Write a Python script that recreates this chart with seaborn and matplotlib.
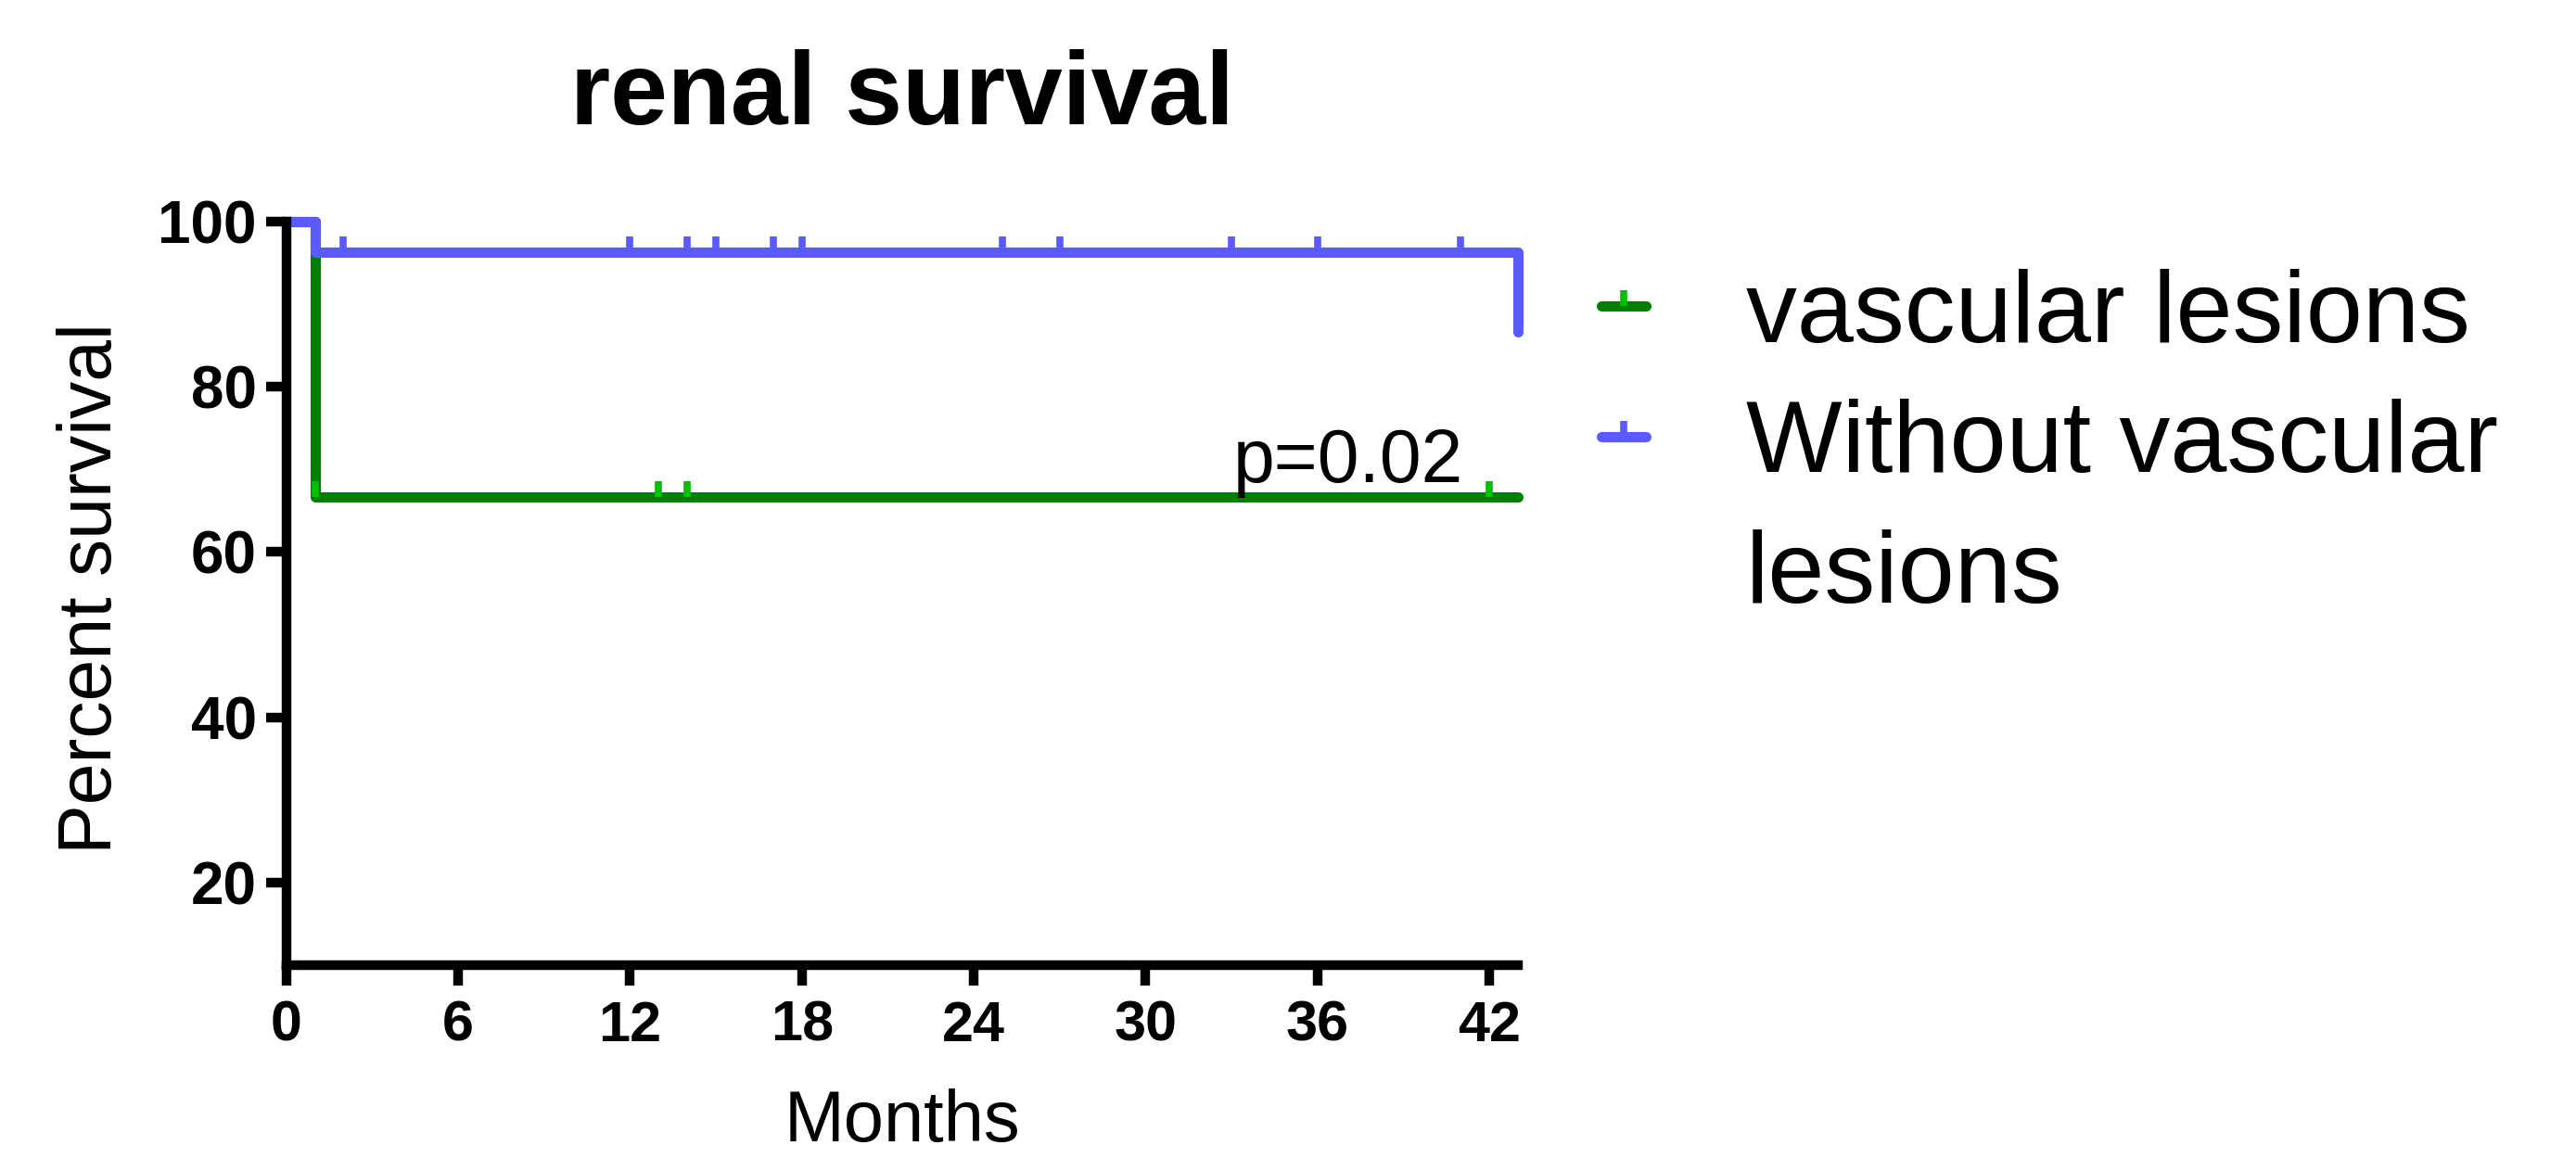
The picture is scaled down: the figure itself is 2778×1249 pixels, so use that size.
import matplotlib
matplotlib.use("Agg")
import matplotlib.pyplot as plt
import pandas as pd
import seaborn as sns
from matplotlib.lines import Line2D
from matplotlib.path import Path

# 生存曲线数据（阶梯点）
groups = ["vascular lesions", "Without vascular lesions"]
vasc_months = [0, 1, 43]
vasc_survival = [100, 66.7, 66.7]
novasc_months = [0, 1, 43]
novasc_survival = [100, 96.3, 86.7]

# 删失点
vasc_censor_x = [1, 13, 14, 42]
vasc_censor_y = [66.7, 66.7, 66.7, 66.7]
novasc_censor_x = [2, 12, 14, 15, 17, 18, 25, 27, 33, 36, 41]
novasc_censor_y = [96.3] * 11

x_ticks = [0, 6, 12, 18, 24, 30, 36, 42]
y_ticks = [20, 40, 60, 80, 100]

line_colors = ["#008000", "#5a5aff"]
censor_colors = ["#00c000", "#5a5aff"]

df = pd.concat(
    [
        pd.DataFrame({"Months": vasc_months, "survival": vasc_survival, "group": groups[0]}),
        pd.DataFrame({"Months": novasc_months, "survival": novasc_survival, "group": groups[1]}),
    ],
    ignore_index=True,
)

sns.set_theme(style="ticks")
plt.rcParams["font.family"] = ["Liberation Sans", "DejaVu Sans"]
plt.rcParams["text.color"] = "black"
plt.rcParams["axes.labelcolor"] = "black"
plt.rcParams["xtick.color"] = "black"
plt.rcParams["ytick.color"] = "black"

fig = plt.figure(figsize=(27.78, 12.49), dpi=100)
ax = fig.add_axes([0.1111, 0.1665, 0.4782, 0.6421])

sns.lineplot(
    data=df, x="Months", y="survival", hue="group", hue_order=groups,
    palette=line_colors, drawstyle="steps-post", estimator=None, sort=False,
    linewidth=8, legend=False, ax=ax, clip_on=False,
)

# 删失标记：从线中心向上的短竖线
tick_mark = Path([(0, 0), (0, 1)], [Path.MOVETO, Path.LINETO])
ax.plot(vasc_censor_x, vasc_censor_y, linestyle="none", marker=tick_mark, ms=25,
        mew=5.5, mec=censor_colors[0], clip_on=False, zorder=3)
ax.plot(novasc_censor_x, novasc_censor_y, linestyle="none", marker=tick_mark, ms=25,
        mew=5.5, mec=censor_colors[1], clip_on=False, zorder=3)

ax.set_xlim(0, 43)
ax.set_ylim(10, 100)
ax.set_xticks(x_ticks)
ax.set_yticks(y_ticks)
for lab in ax.get_xticklabels() + ax.get_yticklabels():
    lab.set_fontweight("bold")
ax.tick_params(axis="x", labelsize=44, length=16, width=7.5, pad=11)
ax.tick_params(axis="y", labelsize=46, length=16, width=7.5, pad=7)
sns.despine(ax=ax)
for s in ["left", "bottom"]:
    ax.spines[s].set_linewidth(7.5)
    ax.spines[s].set_color("black")

ax.set_xlabel("Months", fontsize=56)
ax.set_ylabel("Percent survival", fontsize=58)
ax.xaxis.set_label_coords(0.5, -0.166)
ax.yaxis.set_label_coords(-0.129, 0.507)
ax.set_title("renal survival", fontsize=80, fontweight="bold", pad=76)

ax.text(41.1, 68.5, "p=0.02", fontsize=58, ha="right", va="baseline")

# 图例
handles = [
    Line2D([0], [0], color=line_colors[0], lw=8, marker=tick_mark, ms=25, mew=5.5, mec=censor_colors[0]),
    Line2D([0], [0], color=line_colors[1], lw=8, marker=tick_mark, ms=25, mew=5.5, mec=censor_colors[1]),
    Line2D([0], [0], color="none"),
]
labels = [groups[0], "Without vascular", "lesions"]
fig.legend(handles, labels, loc="upper left", bbox_to_anchor=(0.6217, 0.768), frameon=False,
           fontsize=79, handlelength=0.44, handletextpad=0.98, labelspacing=0.35,
           borderpad=0, borderaxespad=0, numpoints=1)

fig.savefig("out.png", dpi=100)
